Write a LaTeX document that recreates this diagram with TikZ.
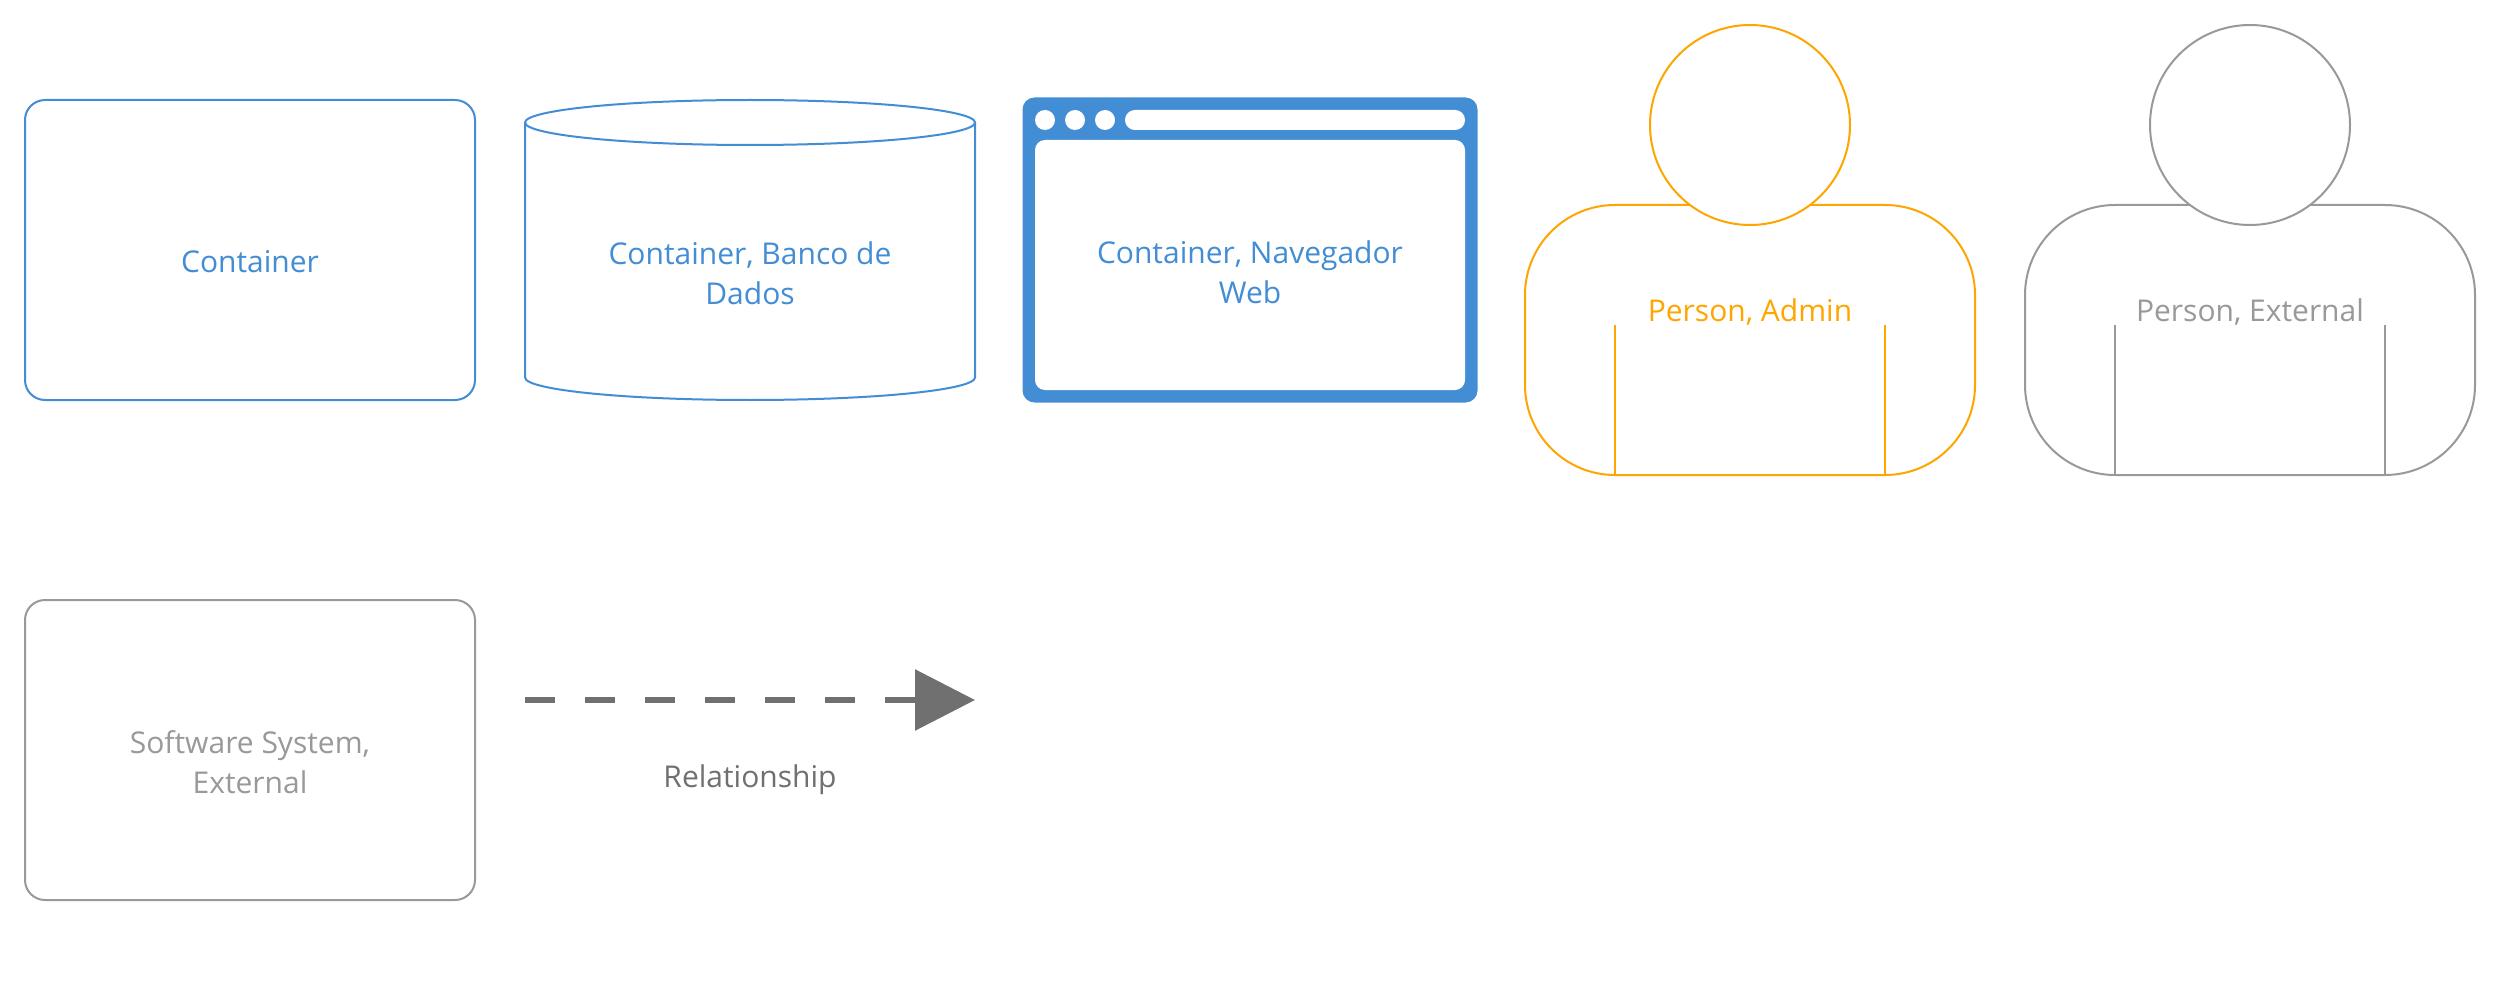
\documentclass[tikz,border=0pt]{standalone}
\usepackage{fontspec}
\setmainfont{Open Sans}
\usetikzlibrary{arrows.meta}
\definecolor{cblue}{HTML}{438DD5}
\definecolor{corange}{HTML}{FFA500}
\definecolor{cgrey}{HTML}{999999}
\definecolor{crel}{HTML}{707070}
\tikzset{
  x=1pt,y=-1pt,
  outline/.style={line width=2pt,fill=white},
  boxshape/.style={outline,rounded corners=20pt},
  lbl/.style={font=\fontsize{30}{40}\selectfont,align=center,inner sep=0pt},
  bodyshape/.style={outline,rounded corners=90pt},
}
\newcommand{\personfig}[2]{% centre x, colour
  \begin{scope}[shift={(#1,0)}]
    \draw[bodyshape,draw=#2] (-225,205) rectangle (225,475);
    \draw[line width=2pt,draw=#2] (-135,325) -- (-135,475) -- (135,475) -- (135,325);
    \draw[outline,draw=#2] (0,125) circle [radius=100];
  \end{scope}
}
\begin{document}
\begin{tikzpicture}
\useasboundingbox (0,0) rectangle (2500,1000);
% Container
\draw[boxshape,draw=cblue] (25,100) rectangle (475,400);
\node[lbl,text=cblue,anchor=base] (container) at (250,272.5) {Container};
% Database
\draw[outline,draw=cblue] (525,122.5) -- (525,377.5)
  arc[start angle=180,end angle=360,x radius=225,y radius=-22.5] -- (975,122.5);
\draw[outline,draw=cblue] (750,122.5) ellipse [x radius=225,y radius=22.5];
\node[lbl,text=cblue] (database) at (750,273) {Container, Banco de\\Dados};
% Browser
\fill[cblue,rounded corners=12pt] (1022.5,97.5) rectangle (1477.5,402.5);
\fill[white,rounded corners=10pt] (1035,140) rectangle (1465,390);
\fill[white] (1045,120) circle [radius=10] (1075,120) circle [radius=10] (1105,120) circle [radius=10];
\fill[white,rounded corners=9.9pt] (1125,110) rectangle (1465,130);
\node[lbl,text=cblue] (browser) at (1250,272.5) {Container, Navegador\\Web};
% Persons
\personfig{1750}{corange}
\node[lbl,text=corange,anchor=base] (admin) at (1750,321.5) {Person, Admin};
\personfig{2250}{cgrey}
\node[lbl,text=cgrey,anchor=base] (external) at (2250,321.5) {Person, External};
% Software system
\draw[boxshape,draw=cgrey] (25,600) rectangle (475,900);
\node[lbl,text=cgrey] (system) at (250,762) {Software System,\\External};
% Relationship
\coordinate (relstart) at (525,700);
\coordinate (relend) at (975,700);
\draw[crel,line width=6pt,dash pattern=on 30pt off 30pt,-{Triangle[length=60pt,width=60pt]}] (relstart) -- (relend);
\node[lbl,text=crel,anchor=base] (rellabel) at (750,787) {Relationship};
\end{tikzpicture}
\end{document}
